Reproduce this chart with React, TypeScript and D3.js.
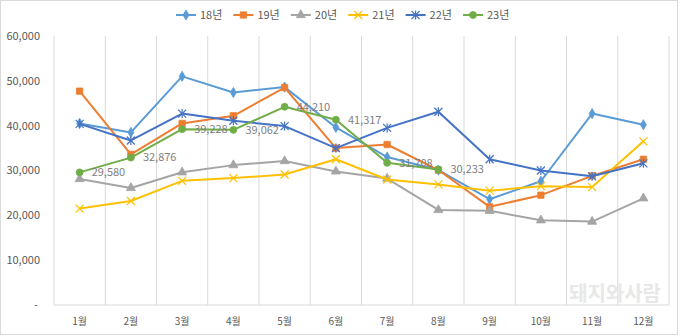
import React from "react";
import * as d3 from "d3";

const months = ["1월", "2월", "3월", "4월", "5월", "6월", "7월", "8월", "9월", "10월", "11월", "12월"];
const yTicks = [0, 10000, 20000, 30000, 40000, 50000, 60000];

const s18 = [40500, 38500, 51000, 47400, 48600, 39600, 33000, 30100, 23600, 27600, 42700, 40200];
const s19 = [47700, 33600, 40500, 42200, 48500, 35000, 35800, 30100, 21900, 24500, 28800, 32500];
const s20 = [28100, 26100, 29600, 31200, 32100, 29800, 28200, 21200, 21000, 18900, 18600, 23800];
const s21 = [21500, 23200, 27700, 28300, 29100, 32500, 28000, 26900, 25500, 26500, 26300, 36500];
const s22 = [40400, 36700, 42700, 41100, 39900, 35000, 39500, 43100, 32500, 30000, 28700, 31600];
const s23 = [29580, 32876, 39228, 39062, 44210, 41317, 31708, 30233];

const seriesNames = ["18년", "19년", "20년", "21년", "22년", "23년"];
const seriesColors = ["#5B9BD5", "#ED7D31", "#A5A5A5", "#FFC000", "#4472C4", "#70AD47"];
const seriesMarkers = ["diamond", "square", "triangle", "x", "asterisk", "circle"];
const seriesValues = [s18, s19, s20, s21, s22, s23];

const W = 680;
const H = 336;
const left = 54;
const right = 669;
const top = 36;
const bottom = 305;

const FONT = "'Noto Sans CJK KR', 'Noto Sans', sans-serif";

function Marker({ type, x, y, color }: { type: string; x: number; y: number; color: string }) {
  if (type === "x" || type === "asterisk") {
    const r = 4;
    return (
      <g transform={`translate(${x},${y})`} stroke={color} strokeWidth={1.2} fill="none">
        <line x1={-r} y1={-r} x2={r} y2={r} />
        <line x1={-r} y1={r} x2={r} y2={-r} />
        {type === "asterisk" && <line x1={0} y1={-r - 0.5} x2={0} y2={r + 0.5} />}
      </g>
    );
  }
  const symMap: Record<string, any> = {
    diamond: d3.symbolDiamond,
    square: d3.symbolSquare,
    triangle: d3.symbolTriangle,
    circle: d3.symbolCircle,
  };
  const sizeMap: Record<string, number> = { diamond: 30, square: 40, triangle: 36, circle: 38 };
  const path = d3.symbol().type(symMap[type]).size(sizeMap[type])() as string;
  return <path d={path} transform={`translate(${x},${y})`} fill={color} stroke={color} strokeWidth={0.8} />;
}

export default function App() {
  const x = d3.scaleBand<string>().domain(months).range([left, right]);
  const y = d3.scaleLinear().domain([0, 60000]).range([bottom, top]);
  const cx = (m: string) => (x(m) as number) + x.bandwidth() / 2;
  const line = d3
    .line<number>()
    .x((_, i) => cx(months[i]))
    .y((d) => y(d));
  const fmt = d3.format(",");

  const legendX0 = 176;
  const legendStep = 57.4;

  return (
    <div style={{ position: "absolute", left: 0, top: 0 }}>
      <svg width={W} height={H} style={{ display: "block", fontFamily: FONT }}>
        <rect x={0} y={0} width={W} height={H} fill="#fff" />
        <rect x={0.5} y={0.5} width={677} height={334} fill="none" stroke="#D9D9D9" />
        {/* vertical gridlines */}
        {months.map((m) => (
          <line key={m} x1={(x(m) as number) + x.bandwidth()} x2={(x(m) as number) + x.bandwidth()} y1={top} y2={bottom} stroke="#D9D9D9" strokeWidth={1} />
        ))}
        <line x1={left} x2={left} y1={top} y2={bottom} stroke="#D9D9D9" />
        <line x1={left} x2={right} y1={bottom} y2={bottom} stroke="#D9D9D9" />
        {/* watermark */}
        <text x={615} y={301} textAnchor="middle" fontSize={20} fontWeight="bold" fill="#E8E8E8">
          돼지와사람
        </text>
        {/* y labels */}
        {yTicks.map((t) => (
          <text key={t} x={t === 0 ? 38 : 40} y={y(t)} dy="0.35em" textAnchor="end" fontSize={11} fill="#595959">
            {t === 0 ? "-" : fmt(t)}
          </text>
        ))}
        {/* x labels */}
        {months.map((m) => (
          <text key={m} x={cx(m)} y={321} dy="0.35em" textAnchor="middle" fontSize={10} fill="#595959">
            {m}
          </text>
        ))}
        {/* series */}
        {seriesValues.map((vals, si) => (
          <g key={seriesNames[si]}>
            <path d={line(vals) as string} fill="none" stroke={seriesColors[si]} strokeWidth={2} strokeLinejoin="round" />
            {vals.map((v, i) => (
              <Marker key={i} type={seriesMarkers[si]} x={cx(months[i])} y={y(v)} color={seriesColors[si]} />
            ))}
          </g>
        ))}
        {/* data labels for 23년 */}
        {s23.map((v, i) => (
          <text key={i} x={cx(months[i]) + 12} y={y(v)} dy="0.35em" fontSize={11} fill="#7F7F7F">
            {fmt(v)}
          </text>
        ))}
        {/* legend */}
        {seriesNames.map((n, i) => {
          const lx = legendX0 + i * legendStep;
          return (
            <g key={n}>
              <line x1={lx} x2={lx + 20} y1={15} y2={15} stroke={seriesColors[i]} strokeWidth={2} />
              <Marker type={seriesMarkers[i]} x={lx + 10} y={15} color={seriesColors[i]} />
              <text x={lx + 24} y={15} dy="0.35em" fontSize={11} fill="#595959">
                {n}
              </text>
            </g>
          );
        })}
      </svg>
    </div>
  );
}
